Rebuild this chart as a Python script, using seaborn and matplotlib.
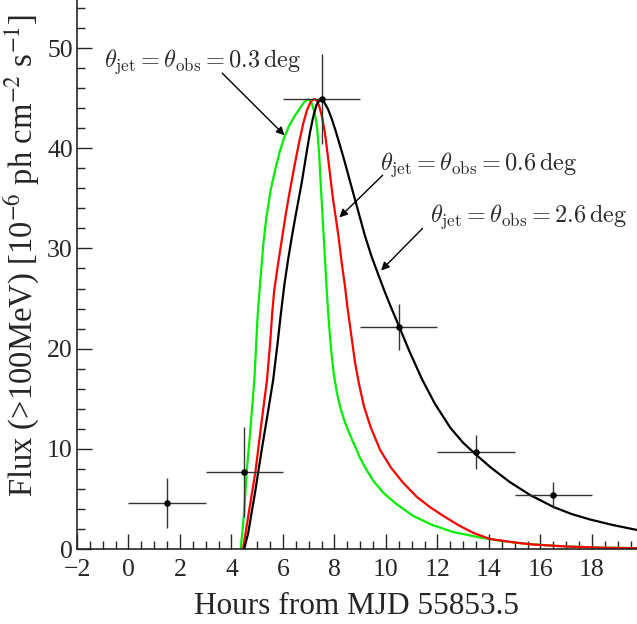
import numpy as np
import pandas as pd
import matplotlib
matplotlib.use("Agg")
import matplotlib.pyplot as plt
import seaborn as sns

# ---- data points (light curve) ----
obs_t = [1.5, 4.5, 7.5, 10.5, 13.5, 16.5]
obs_f = [4.6, 7.7, 44.9, 22.2, 9.7, 5.4]
obs_terr = [1.5, 1.5, 1.5, 1.5, 1.5, 1.5]
obs_ferr = [2.5, 4.5, 4.5, 2.3, 1.7, 1.3]

# ---- model curves ----
green_t = [4.36, 4.49, 4.59, 4.72, 4.89, 4.96, 5.02, 5.11, 5.24, 5.35, 5.52, 5.70, 5.88,
           6.05, 6.25, 6.45, 6.66, 6.82, 6.98, 7.10, 7.20, 7.27, 7.33, 7.40, 7.48, 7.59,
           7.70, 7.78, 7.87, 7.97, 8.10, 8.25, 8.40, 8.54, 8.70, 8.86, 8.99, 9.20, 9.51,
           9.90, 10.4, 11.06, 11.8, 12.6, 13.65, 14.5, 15.5, 17.0, 18.5, 19.75]
green_f = [0.0, 3.6, 7.7, 11.5, 16.9, 20.5, 23.5, 26.5, 30.5, 33.0, 35.8, 37.9, 39.7,
           41.1, 42.3, 43.2, 44.0, 44.6, 44.9, 44.6, 43.8, 43.0, 41.9, 39.6, 35.8, 30.8,
           25.8, 22.7, 19.9, 17.5, 15.5, 13.9, 12.7, 11.8, 10.8, 9.9, 9.1, 8.1, 6.8,
           5.6, 4.5, 3.3, 2.4, 1.7, 1.15, 0.8, 0.5, 0.25, 0.13, 0.08]

red_t = [4.45, 4.67, 4.93, 5.15, 5.38, 5.50, 5.58, 5.66, 5.80, 5.95, 6.10, 6.27, 6.45,
         6.62, 6.79, 6.93, 7.05, 7.15, 7.24, 7.33, 7.42, 7.52, 7.63, 7.71, 7.79, 7.87,
         7.95, 8.05, 8.15, 8.30, 8.40, 8.50, 8.65, 8.80, 8.95, 9.15, 9.40, 9.77, 10.2,
         10.67, 11.2, 11.7, 12.23, 12.8, 13.4, 14.04, 15.0, 15.7, 17.0, 18.5, 19.75]
red_f = [0.0, 3.6, 7.7, 12.3, 16.9, 20.5, 23.5, 25.8, 28.3, 30.8, 33.3, 35.8, 38.3,
         40.5, 42.5, 43.8, 44.5, 44.85, 44.9, 44.7, 44.1, 43.1, 41.5, 39.9, 38.2, 36.5,
         34.8, 33.1, 31.3, 28.2, 26.4, 24.2, 21.4, 18.6, 16.5, 14.2, 12.2, 9.9, 8.1,
         6.6, 5.2, 4.2, 3.3, 2.4, 1.6, 1.0, 0.65, 0.45, 0.25, 0.12, 0.08]

black_t = [4.49, 4.65, 4.78, 4.92, 5.04, 5.20, 5.40, 5.62, 5.78, 5.91, 6.05, 6.20, 6.34,
           6.50, 6.73, 6.90, 7.05, 7.18, 7.30, 7.44, 7.60, 7.75, 7.90, 8.05, 8.20, 8.37,
           8.54, 8.70, 8.86, 9.02, 9.18, 9.44, 9.70, 9.95, 10.20, 10.48, 10.9, 11.39,
           11.9, 12.5, 13.0, 13.46, 14.04, 14.8, 15.59, 16.5, 17.2, 17.92, 18.8, 19.75]
black_f = [0.0, 1.6, 3.6, 5.7, 7.7, 10.3, 13.4, 16.9, 20.3, 23.3, 26.3, 28.9, 31.1,
           33.4, 36.6, 39.3, 41.6, 43.2, 44.3, 44.9, 44.6, 43.9, 42.9, 41.7, 40.4, 38.9,
           37.3, 35.8, 34.3, 32.8, 31.3, 29.2, 27.4, 25.7, 24.1, 22.4, 19.8, 17.0,
           14.5, 12.1, 10.6, 9.5, 8.2, 6.7, 5.4, 4.2, 3.5, 2.95, 2.4, 1.9]

labels = [r"$\theta_{\rm jet}=\theta_{\rm obs}=0.3\,{\rm deg}$",
          r"$\theta_{\rm jet}=\theta_{\rm obs}=0.6\,{\rm deg}$",
          r"$\theta_{\rm jet}=\theta_{\rm obs}=2.6\,{\rm deg}$"]

sns.set_style("ticks")
plt.rcParams["font.family"] = ["Liberation Serif", "DejaVu Serif"]
plt.rcParams["mathtext.fontset"] = "cm"

fig = plt.figure(figsize=(6.37, 6.24), dpi=100)
ax = fig.add_axes([77 / 637, 75 / 624, 560 / 637, 549 / 624])

curves = pd.concat([
    pd.DataFrame({"t": green_t, "f": green_f, "m": "g"}),
    pd.DataFrame({"t": red_t, "f": red_f, "m": "r"}),
    pd.DataFrame({"t": black_t, "f": black_f, "m": "k"}),
])
sns.lineplot(data=curves, x="t", y="f", hue="m", estimator=None, sort=False,
             palette={"g": "#00ee00", "r": "#ff0000", "k": "#000000"},
             linewidth=1.6, legend=False, ax=ax)

ax.errorbar(obs_t, obs_f, xerr=obs_terr, yerr=obs_ferr, fmt="none",
            ecolor="#333333", elinewidth=1.0, capsize=0, zorder=5)
sns.scatterplot(x=obs_t, y=obs_f, color="black", s=22, edgecolor="black",
                linewidth=0, zorder=6, ax=ax)

ax.set_xlim(-2, 19.75)
ax.set_ylim(0, 54.8)
ax.set_xticks(np.arange(-2, 19, 2))
ax.set_xticks(np.arange(-2, 19.8, 0.5), minor=True)
ax.set_yticks(np.arange(0, 51, 10))
ax.set_yticks(np.arange(0, 55, 2), minor=True)
ax.tick_params(which="major", direction="in", length=11, width=1.0, labelsize=18.5)
ax.tick_params(axis="x", which="major", pad=7)
ax.tick_params(axis="y", which="major", pad=3)
ax.tick_params(which="minor", direction="in", length=5.5, width=1.0)
for s in ["top", "right"]:
    ax.spines[s].set_visible(False)
for s in ["left", "bottom"]:
    ax.spines[s].set_linewidth(1.2)

ax.set_xlabel("Hours from MJD 55853.5", fontsize=22.5, labelpad=8)
ax.set_ylabel(r"Flux (>100MeV) [10$^{-6}$ ph cm$^{-2}$ s$^{-1}$]",
              fontsize=23.5, math_fontfamily="stix")
ax.yaxis.set_label_coords(-0.06, 0.535)

txt_color = "#2a2a2a"
ax.text(-0.95, 48.1, labels[0], fontsize=17.5, color=txt_color, ha="left", va="baseline")
ax.text(9.77, 37.8, labels[1], fontsize=17.5, color=txt_color, ha="left", va="baseline")
ax.text(11.71, 32.7, labels[2], fontsize=17.5, color=txt_color, ha="left", va="baseline")

arrow = dict(arrowstyle="-|>", color="black", lw=1.0, mutation_scale=12,
             shrinkA=0, shrinkB=0)
ax.annotate("", xy=(6.06, 41.3), xytext=(3.64, 47.5), arrowprops=arrow)
ax.annotate("", xy=(8.19, 33.1), xytext=(9.87, 37.3), arrowprops=arrow)
ax.annotate("", xy=(9.81, 27.8), xytext=(11.42, 32.0), arrowprops=arrow)

fig.savefig("out.png", dpi=100)
